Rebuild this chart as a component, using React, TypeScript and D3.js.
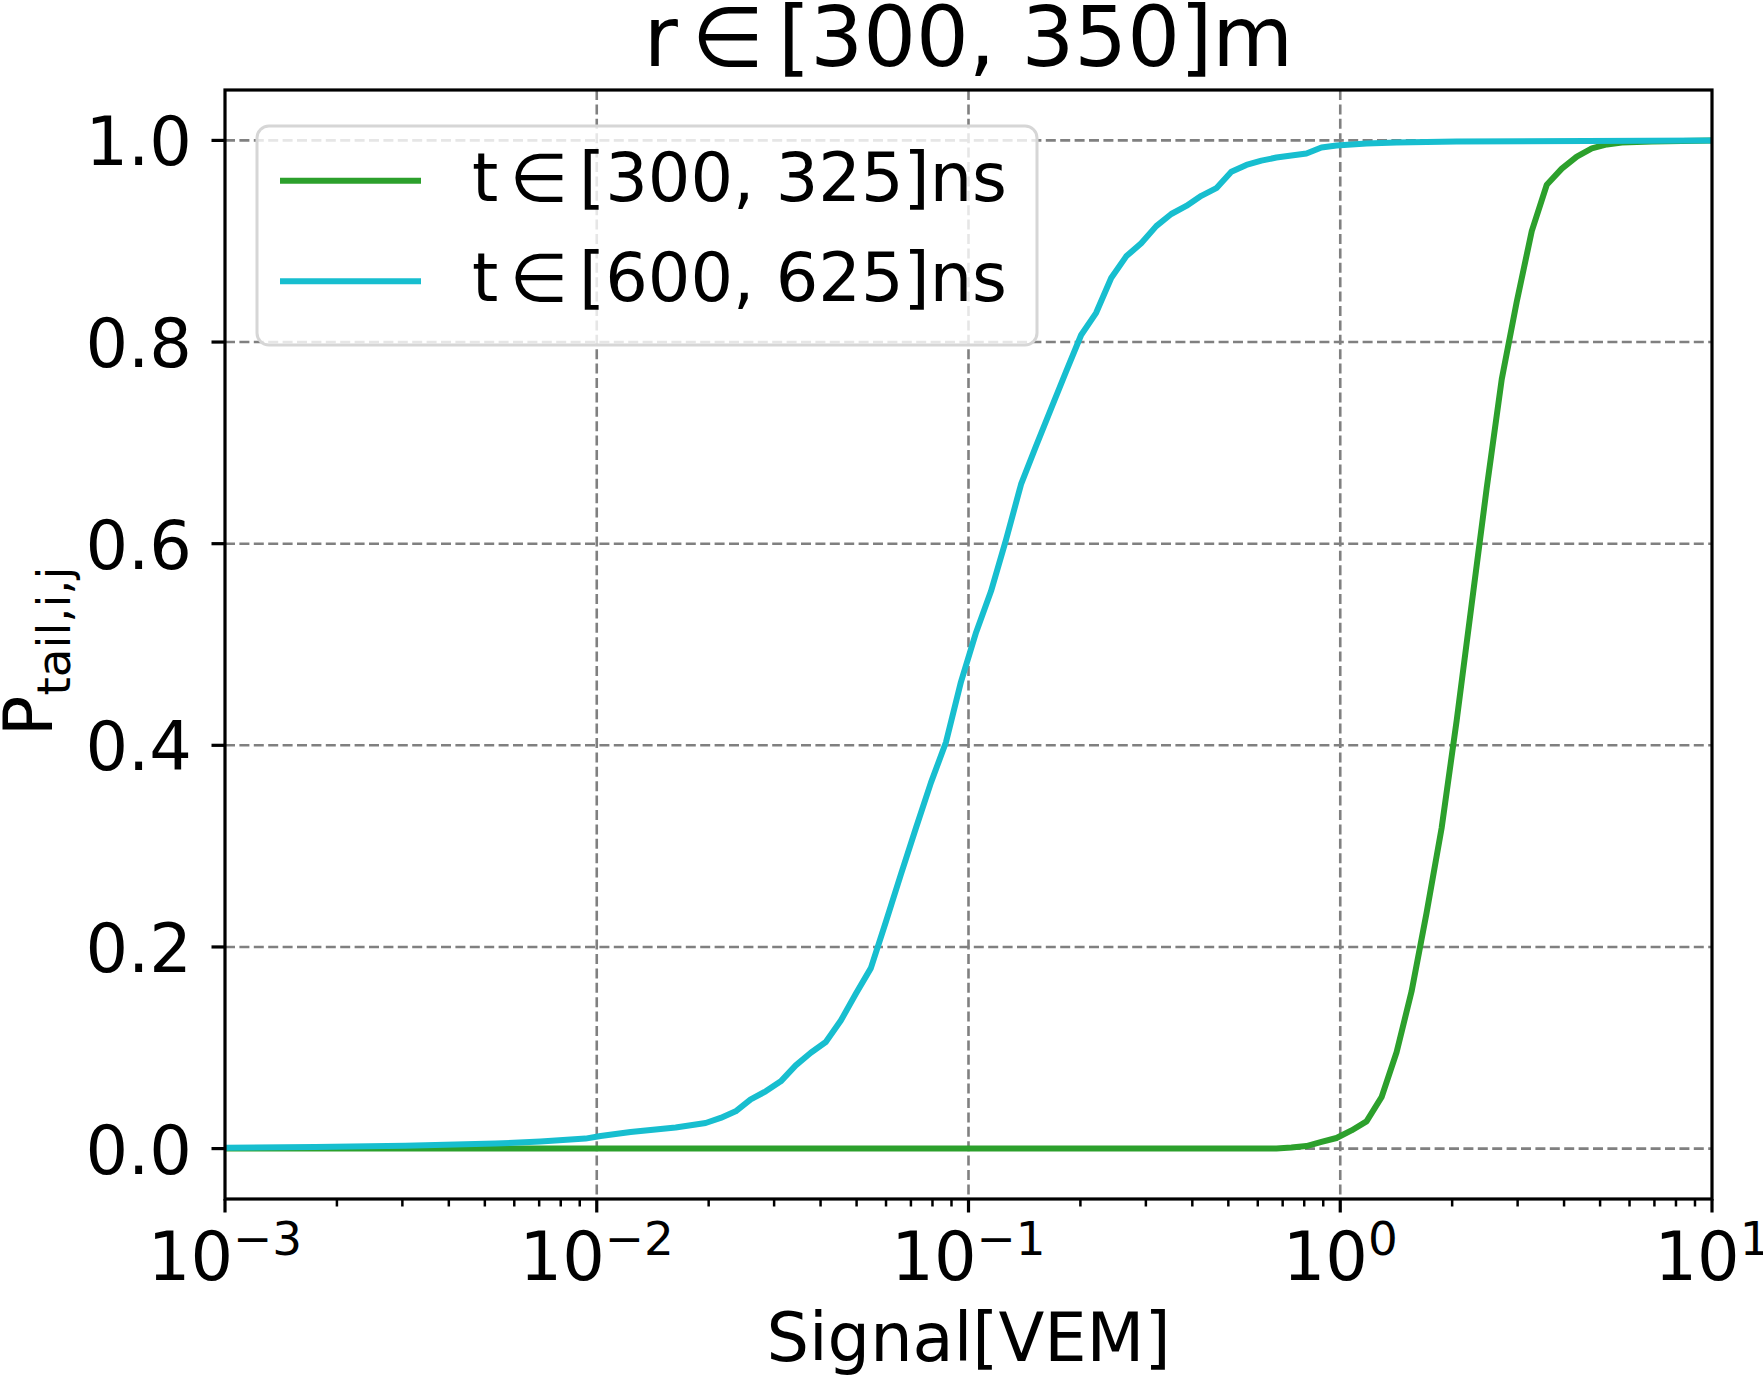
import React, { useEffect, useRef } from "react";
import * as d3 from "d3";

const W = 1763;
const H = 1378;
const PLOT = { left: 225, right: 1712, top: 90, bottom: 1199 };
const FONT = "'DejaVu Sans', sans-serif";
const FS = 67; // base font px
const TITLE_FS = 83;

const GREEN = "#2ca02c";
const CYAN = "#17becf";

// t in [300, 325]ns
const SIGNAL_GREEN = [
  0.001, 0.6734, 0.7391, 0.8111, 0.8902, 0.977, 1.0723, 1.1768, 1.2915,
  1.4175, 1.5557, 1.7074, 1.8738, 2.0565, 2.257, 2.4771, 2.7186, 2.9836,
  3.2745, 3.5938, 3.9442, 4.3288, 4.7508, 5.214, 5.7224, 6.8926, 10,
];
const P_GREEN = [
  0, 0, 0.001, 0.0025, 0.0066, 0.0105, 0.018, 0.027, 0.051, 0.0955, 0.156,
  0.234, 0.318, 0.4245, 0.54, 0.655, 0.763, 0.84, 0.91, 0.956, 0.972, 0.984,
  0.992, 0.996, 0.998, 0.999, 1.0,
];

// t in [600, 625]ns
const SIGNAL_CYAN = [
  0.001, 0.001748, 0.003054, 0.005337, 0.007055, 0.009326, 0.01024, 0.01233,
  0.0163, 0.01963, 0.02154, 0.02364, 0.02595, 0.02848, 0.03126, 0.0343,
  0.03765, 0.04132, 0.04535, 0.04977, 0.05462, 0.05995, 0.06579, 0.07221,
  0.07925, 0.08697, 0.09545, 0.1048, 0.115, 0.1262, 0.1385, 0.152, 0.1668,
  0.1831, 0.2009, 0.2205, 0.242, 0.2656, 0.2915, 0.3199, 0.3511, 0.3854,
  0.4229, 0.4642, 0.5094, 0.5591, 0.6136, 0.6734, 0.7391, 0.8111, 0.8902,
  0.977, 1.1768, 1.4175, 2.0565, 10,
];
const P_CYAN = [
  0.0008, 0.0015, 0.0028, 0.005, 0.007, 0.0099, 0.0125, 0.0165, 0.021,
  0.0254, 0.0304, 0.037, 0.0489, 0.0568, 0.0667, 0.0825, 0.0951, 0.1057,
  0.127, 0.1535, 0.179, 0.225, 0.272, 0.318, 0.363, 0.403, 0.463, 0.512,
  0.553, 0.604, 0.659, 0.697, 0.734, 0.771, 0.807, 0.829, 0.8635, 0.885,
  0.898, 0.915, 0.927, 0.935, 0.945, 0.9526, 0.969, 0.9757, 0.98, 0.983,
  0.985, 0.987, 0.993, 0.995, 0.997, 0.998, 0.999, 1.0,
];

// thin spaces around ∈, like mathtext
const SERIES = [
  { label: "t\u2006∈\u2006[300, 325]ns", color: GREEN, xs: SIGNAL_GREEN, ys: P_GREEN },
  { label: "t\u2006∈\u2006[600, 625]ns", color: CYAN, xs: SIGNAL_CYAN, ys: P_CYAN },
];

const X_DECADES = [-3, -2, -1, 0, 1];
const Y_TICKS = [0, 0.2, 0.4, 0.6, 0.8, 1.0];
const TITLE = "r\u2006∈\u2006[300, 350]m";
const X_LABEL = "Signal[VEM]";

export default function App() {
  const svgRef = useRef<SVGSVGElement>(null);

  useEffect(() => {
    const svg = d3.select(svgRef.current);
    svg.selectAll("*").remove();

    const x = d3.scaleLog().domain([1e-3, 1e1]).range([PLOT.left, PLOT.right]);
    const y = d3.scaleLinear().domain([-0.05, 1.05]).range([PLOT.bottom, PLOT.top]);

    svg
      .append("defs")
      .append("clipPath")
      .attr("id", "plotclip")
      .append("rect")
      .attr("x", PLOT.left)
      .attr("y", PLOT.top)
      .attr("width", PLOT.right - PLOT.left)
      .attr("height", PLOT.bottom - PLOT.top);

    // grid
    const grid = svg.append("g").attr("stroke", "#808080").attr("stroke-width", 2.6).attr("stroke-dasharray", "10 4.4");
    X_DECADES.slice(1, -1).forEach((e) => {
      const px = x(Math.pow(10, e));
      grid.append("line").attr("x1", px).attr("x2", px).attr("y1", PLOT.top).attr("y2", PLOT.bottom);
    });
    Y_TICKS.forEach((v) => {
      grid.append("line").attr("x1", PLOT.left).attr("x2", PLOT.right).attr("y1", y(v)).attr("y2", y(v));
    });

    // curves
    const line = d3
      .line<[number, number]>()
      .x((d) => x(d[0]))
      .y((d) => y(d[1]));
    const curves = svg.append("g").attr("clip-path", "url(#plotclip)");
    SERIES.forEach((s) => {
      curves
        .append("path")
        .attr("d", line(s.xs.map((v, i) => [v, s.ys[i]] as [number, number])))
        .attr("fill", "none")
        .attr("stroke", s.color)
        .attr("stroke-width", 6)
        .attr("stroke-linejoin", "round");
    });

    // spines
    svg
      .append("rect")
      .attr("x", PLOT.left)
      .attr("y", PLOT.top)
      .attr("width", PLOT.right - PLOT.left)
      .attr("height", PLOT.bottom - PLOT.top)
      .attr("fill", "none")
      .attr("stroke", "#000")
      .attr("stroke-width", 3.2);

    // x ticks (major decades + minor 2..9)
    const ax = svg.append("g").attr("stroke", "#000");
    X_DECADES.forEach((e, i) => {
      const px = x(Math.pow(10, e));
      ax.append("line").attr("x1", px).attr("x2", px).attr("y1", PLOT.bottom).attr("y2", PLOT.bottom + 13.5).attr("stroke-width", 3.2);
      if (i < X_DECADES.length - 1) {
        for (let m = 2; m <= 9; m++) {
          const mx = x(m * Math.pow(10, e));
          ax.append("line").attr("x1", mx).attr("x2", mx).attr("y1", PLOT.bottom).attr("y2", PLOT.bottom + 7.5).attr("stroke-width", 2.5);
        }
      }
      const t = svg
        .append("text")
        .attr("x", px)
        .attr("y", 1280)
        .attr("text-anchor", "middle")
        .attr("font-family", FONT)
        .attr("font-size", FS)
        .attr("fill", "#000");
      t.append("tspan").text("10");
      t.append("tspan")
        .attr("font-size", FS * 0.7)
        .attr("dy", -25)
        .text(e < 0 ? `\u2212${-e}` : `${e}`);
    });

    // y ticks
    Y_TICKS.forEach((v) => {
      ax.append("line").attr("x1", PLOT.left - 13.5).attr("x2", PLOT.left).attr("y1", y(v)).attr("y2", y(v)).attr("stroke-width", 3.2);
      svg
        .append("text")
        .attr("x", 192)
        .attr("y", y(v) + 25)
        .attr("text-anchor", "end")
        .attr("font-family", FONT)
        .attr("font-size", FS)
        .attr("fill", "#000")
        .text(v.toFixed(1));
    });

    // axis labels + title
    svg
      .append("text")
      .attr("x", (PLOT.left + PLOT.right) / 2)
      .attr("y", 1361)
      .attr("text-anchor", "middle")
      .attr("font-family", FONT)
      .attr("font-size", FS)
      .text(X_LABEL);

    const yl = svg
      .append("text")
      .attr("transform", "translate(52, 736) rotate(-90)")
      .attr("text-anchor", "start")
      .attr("font-family", FONT)
      .attr("font-size", FS);
    yl.append("tspan").text("P");
    yl.append("tspan").attr("font-size", FS * 0.7).attr("dy", 18).text("tail,i,j");

    svg
      .append("text")
      .attr("x", (PLOT.left + PLOT.right) / 2)
      .attr("y", 66)
      .attr("text-anchor", "middle")
      .attr("font-family", FONT)
      .attr("font-size", TITLE_FS)
      .text(TITLE);

    // legend
    const lg = svg.append("g");
    lg.append("rect")
      .attr("x", 257)
      .attr("y", 126)
      .attr("width", 780)
      .attr("height", 219)
      .attr("rx", 12)
      .attr("fill", "rgba(255,255,255,0.8)")
      .attr("stroke", "#d6d6d6")
      .attr("stroke-width", 3);
    SERIES.forEach((s, i) => {
      const ly = 180.7 + i * 100.5;
      lg.append("line").attr("x1", 280).attr("x2", 421).attr("y1", ly).attr("y2", ly).attr("stroke", s.color).attr("stroke-width", 6);
      lg.append("text")
        .attr("x", 472)
        .attr("y", ly + 20)
        .attr("font-family", FONT)
        .attr("font-size", FS)
        .attr("fill", "#000")
        .text(s.label);
    });
  }, []);

  return (
    <svg
      ref={svgRef}
      width={W}
      height={H}
      style={{ position: "absolute", left: 0, top: 0, background: "#fff" }}
    />
  );
}
